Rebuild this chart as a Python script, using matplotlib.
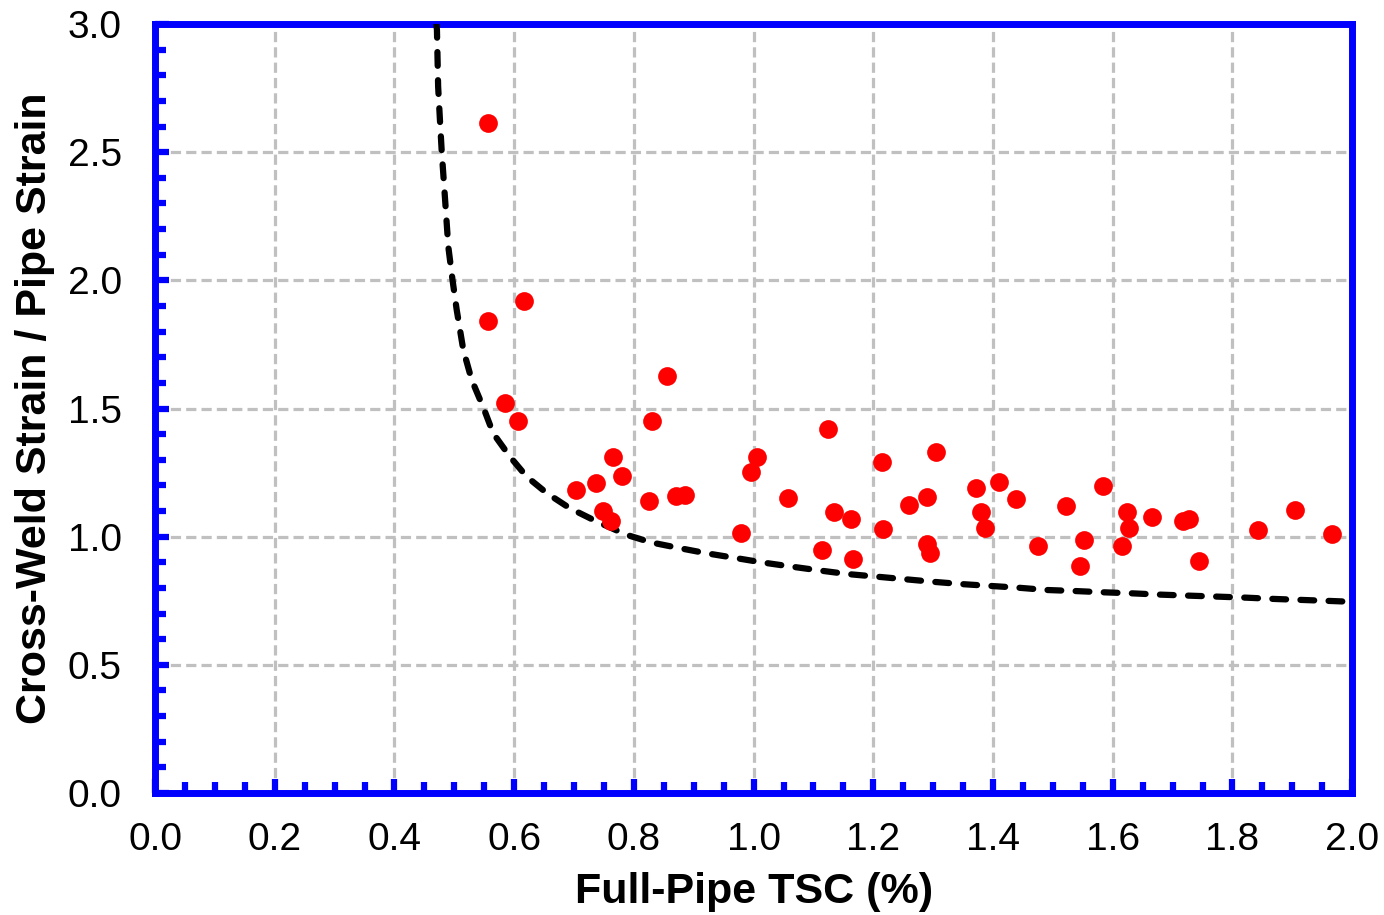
import numpy as np
import matplotlib
matplotlib.use("Agg")
import matplotlib.pyplot as plt
from matplotlib.ticker import MultipleLocator, FormatStrFormatter

plt.rcParams['font.family'] = ['Liberation Sans', 'DejaVu Sans']

# measured cross-weld / pipe strain ratios
tsc = [0.556, 0.556, 0.616, 0.585, 0.606, 0.830, 0.856, 1.125, 0.765, 1.005,
       0.780, 0.996, 0.736, 0.703, 1.215, 1.304, 0.825, 0.871, 0.886, 1.057,
       0.748, 0.762, 0.979, 1.135, 1.163, 1.260, 1.290, 1.217, 1.115, 1.166,
       1.290, 1.295, 1.371, 1.410, 1.438, 1.380, 1.386, 1.475, 1.522, 1.584,
       1.552, 1.546, 1.623, 1.627, 1.615, 1.666, 1.718, 1.727, 1.744, 1.843,
       1.905, 1.966]
ratio = [2.613, 1.841, 1.920, 1.520, 1.451, 1.453, 1.628, 1.419, 1.312, 1.310,
         1.238, 1.251, 1.211, 1.182, 1.290, 1.332, 1.139, 1.160, 1.164, 1.151,
         1.101, 1.061, 1.016, 1.096, 1.070, 1.124, 1.153, 1.029, 0.948, 0.913,
         0.970, 0.935, 1.188, 1.212, 1.146, 1.095, 1.035, 0.964, 1.119, 1.196,
         0.986, 0.884, 1.095, 1.035, 0.964, 1.078, 1.060, 1.068, 0.906, 1.026,
         1.103, 1.012]

# lower-bound trend curve
curve_x = [0.470, 0.471, 0.473, 0.476, 0.479, 0.485, 0.490, 0.497, 0.504, 0.515,
           0.529, 0.549, 0.565, 0.593, 0.621, 0.655, 0.693, 0.738, 0.788, 0.830,
           0.877, 0.922, 0.972, 1.016, 1.064, 1.114, 1.158, 1.206, 1.253, 1.300,
           1.348, 1.395, 1.442, 1.490, 1.537, 1.585, 1.632, 1.679, 1.727, 1.777,
           1.824, 1.871, 1.919, 1.966, 1.988]
curve_y = [3.000, 2.977, 2.756, 2.626, 2.502, 2.302, 2.131, 2.002, 1.885, 1.729,
           1.612, 1.501, 1.403, 1.312, 1.234, 1.169, 1.111, 1.059, 1.007, 0.977,
           0.955, 0.935, 0.916, 0.899, 0.883, 0.867, 0.854, 0.844, 0.834, 0.824,
           0.815, 0.808, 0.801, 0.792, 0.788, 0.783, 0.779, 0.774, 0.770, 0.766,
           0.762, 0.757, 0.753, 0.749, 0.747]

blue = '#0000FF'

fig = plt.figure(figsize=(13.84, 9.15), dpi=100)
ax = fig.add_axes([0.112, 0.1333, 0.865, 0.8405])

ax.grid(True, which='major', color='#C0C0C0', linewidth=2.3,
        linestyle=(0, (3.2, 1.6)))
ax.set_axisbelow(True)

ax.plot(curve_x, curve_y, color='black', linewidth=4.5,
        linestyle=(0, (2.2, 2.3)), dash_capstyle='round', zorder=3)
ax.plot(tsc, ratio, 'o', color='#FF0000', markersize=13.5, markeredgewidth=0,
        zorder=4)

ax.set_xlim(0, 2.0)
ax.set_ylim(0, 3.0)
ax.xaxis.set_major_locator(MultipleLocator(0.2))
ax.xaxis.set_minor_locator(MultipleLocator(0.05))
ax.yaxis.set_major_locator(MultipleLocator(0.5))
ax.yaxis.set_minor_locator(MultipleLocator(0.1))
ax.xaxis.set_major_formatter(FormatStrFormatter('%.1f'))
ax.yaxis.set_major_formatter(FormatStrFormatter('%.1f'))

for s in ax.spines.values():
    s.set_color(blue)
    s.set_linewidth(5)

ax.tick_params(which='both', direction='in', color=blue, top=False, right=False)
ax.tick_params(which='major', length=10, width=4.5, labelsize=28)
ax.tick_params(axis='x', which='major', pad=21)
ax.tick_params(axis='y', which='major', pad=24)
ax.tick_params(which='minor', length=8, width=4.5)

ax.set_xlabel('Full-Pipe TSC (%)', fontsize=31, fontweight='bold', labelpad=10)
ax.set_ylabel('Cross-Weld Strain / Pipe Strain', fontsize=31,
              fontweight='bold', labelpad=9)

fig.savefig('out.png', dpi=100)
